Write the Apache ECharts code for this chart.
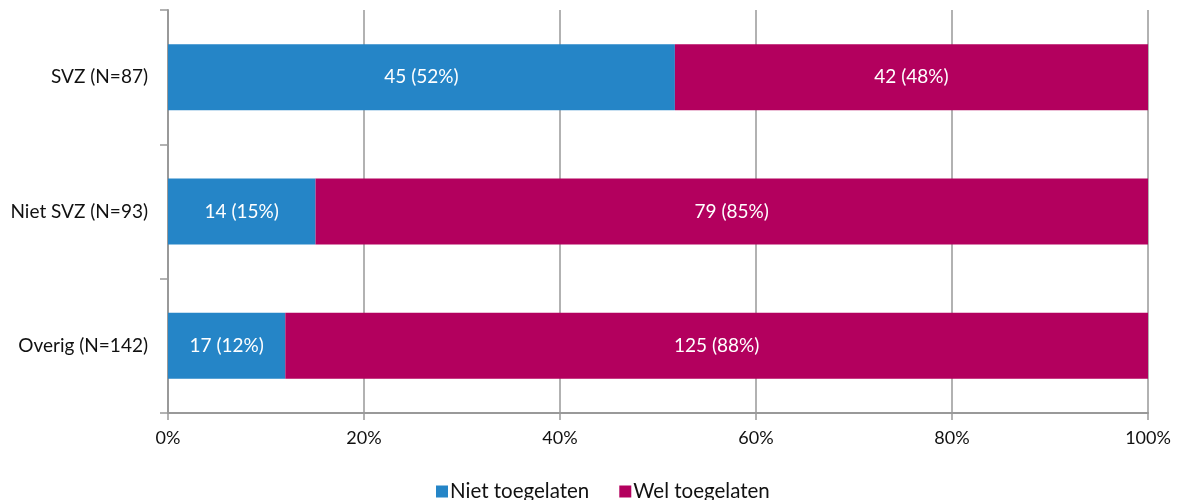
<!DOCTYPE html>
<html><head><meta charset="utf-8">
<script src="https://cdn.jsdelivr.net/npm/echarts@6/dist/echarts.min.js"></script>
<style>html,body{margin:0;padding:0;background:#fff}#c{width:1177px;height:500px}</style>
</head><body><div id="c"></div>
<script>
const categories = ['SVZ (N=87)', 'Niet SVZ (N=93)', 'Overig (N=142)'];
const nietToegelaten = [45, 14, 17];
const welToegelaten = [42, 79, 125];
const xTicks = [0, 20, 40, 60, 80, 100];

const totals = nietToegelaten.map((v, i) => v + welToegelaten[i]);
const pct = (arr) => arr.map((v, i) => ({ value: v / totals[i] * 100, count: v }));
const font = 'Lato, sans-serif';
const lbl = {
  show: true, position: 'inside', color: '#fff', fontSize: 19, fontFamily: font,
  formatter: p => p.data.count + ' (' + Math.round(p.data.value) + '%)'
};
const chart = echarts.init(document.getElementById('c'));
chart.setOption({
  animation: false,
  grid: { left: 168, right: 29, top: 10, bottom: 87, containLabel: false },
  xAxis: {
    type: 'value', min: 0, max: 100, interval: 20,
    axisLabel: { formatter: '{value}%', fontSize: 18, color: '#111', fontFamily: font, margin: 16 },
    axisLine: { show: true, lineStyle: { color: '#999', width: 2 } },
    axisTick: { show: true, length: 7, lineStyle: { color: '#999', width: 1.5 } },
    splitLine: { show: true, lineStyle: { color: '#999', width: 1.5 } }
  },
  yAxis: {
    type: 'category', data: categories, inverse: true,
    axisLabel: { fontSize: 19, color: '#111', fontFamily: font, margin: 20 },
    axisLine: { show: true, lineStyle: { color: '#999', width: 2 } },
    axisTick: { show: true, length: 8, lineStyle: { color: '#999', width: 1.5 } }
  },
  legend: {
    bottom: -7, left: 431, itemWidth: 12, itemHeight: 12, itemGap: 30,
    icon: 'rect',
    textStyle: { fontSize: 20.5, color: '#111', fontFamily: font, padding: [0, 0, 0, -3] },
    data: ['Niet toegelaten', 'Wel toegelaten']
  },
  series: [
    { name: 'Niet toegelaten', type: 'bar', stack: 't', barWidth: 66,
      itemStyle: { color: '#2585c7' }, label: lbl, data: pct(nietToegelaten) },
    { name: 'Wel toegelaten', type: 'bar', stack: 't', barWidth: 66,
      itemStyle: { color: '#b3005e' }, label: lbl, data: pct(welToegelaten) }
  ]
});
</script></body></html>
